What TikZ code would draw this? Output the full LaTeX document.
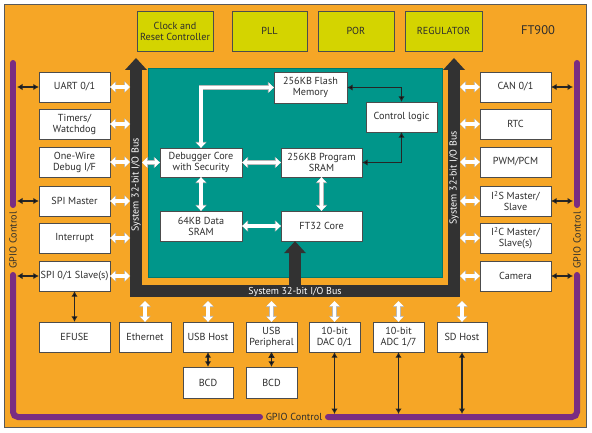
\documentclass[tikz,border=0pt]{standalone}
\usepackage{fontspec}
\setmainfont{PT Sans}
\usepackage{xcolor}
\usetikzlibrary{arrows.meta}

\definecolor{chiporange}{RGB}{246,166,38}
\definecolor{coreteal}{RGB}{0,150,138}
\definecolor{busgray}{RGB}{50,50,50}
\definecolor{gpiopurple}{RGB}{122,45,130}
\definecolor{blockyellow}{RGB}{212,212,0}
\definecolor{textgray}{RGB}{45,45,45}

\tikzset{
	block/.style={draw=gray!60!black, fill=white, text=textgray, align=center, inner sep=1pt,
		minimum height=30pt, font=\fontsize{10.2}{11}\selectfont},
	topblock/.style={block, fill=blockyellow, minimum height=40pt},
	busline/.style={busgray, line width=12pt, line join=miter},
	bustip/.tip={Triangle[length=12pt,width=22pt,line width=0pt]},
	bustext/.style={text=white, inner sep=0pt, font=\fontsize{10}{11}\selectfont},
	io/.style={white, line width=3.2pt, line join=miter,
		{Triangle[length=5pt,width=9.5pt,line width=0pt]}-{Triangle[length=5pt,width=9.5pt,line width=0pt]},
		preaction={draw=gray!55, line width=4.6pt,
			{Triangle[length=6pt,width=11.5pt,line width=0pt]}-{Triangle[length=6pt,width=11.5pt,line width=0pt]}}},
	sig/.style={draw=black!85, line width=1.3pt, {Latex[length=5.5pt,width=6.5pt]}-{Latex[length=5.5pt,width=6.5pt]}},
	hv/.style={to path={-| (\tikztotarget)}},
	vh/.style={to path={|- (\tikztotarget)}},
	gpiobar/.style={gpiopurple, line width=6pt, line cap=round, rounded corners=5pt},
	gpiotext/.style={text=textgray, inner sep=0pt, font=\fontsize{10.2}{11}\selectfont}
}

\begin{document}
\begin{tikzpicture}[x=1pt,y=-1pt]
		\useasboundingbox (0,0) rectangle (592,433);
		% chip outline and core area
		\draw[gray!70!black, fill=chiporange] (4,4) rectangle (586,427);
		\draw[coreteal!80!black, fill=coreteal] (148,68) rectangle (442,277);
		\node[text=textgray, font=\fontsize{12.5}{14}\selectfont] (chip) at (538,30) {FT900};
		%
		% clock and power blocks
		\node[topblock, minimum width=76pt] (clk) at (175,31) {Clock and\\Reset Controller};
		\node[topblock, minimum width=75pt] (pll) at (269.5,31) {PLL};
		\node[topblock, minimum width=76pt] (por) at (356,31) {POR};
		\node[topblock, minimum width=77pt] (reg) at (443.5,31) {REGULATOR};
		%
		% core blocks
		\node[block, minimum width=73pt, minimum height=31pt] (flash) at (310.5,87.5) {256KB Flash\\Memory};
		\node[block, minimum width=71pt] (ctrl) at (401.5,117) {Control logic};
		\node[block, minimum width=82pt, minimum height=29pt] (dbg) at (201,162.5) {Debugger Core\\with Security};
		\node[block, minimum width=81pt, minimum height=29pt] (psram) at (321.5,162.5) {256KB Program\\SRAM};
		\node[block, minimum width=82pt] (dsram) at (201,226) {64KB Data\\SRAM};
		\node[block, minimum width=81pt] (core) at (321.5,226) {FT32 Core};
		%
		% left peripherals
		\node[block, minimum width=71pt] (uart) at (74.5,87) {UART 0/1};
		\node[block, minimum width=71pt] (timer) at (74.5,124) {Timers/\\Watchdog};
		\node[block, minimum width=71pt] (owire) at (74.5,162) {One-Wire\\Debug I/F};
		\node[block, minimum width=71pt] (spim) at (74.5,201) {SPI Master};
		\node[block, minimum width=71pt] (irq) at (74.5,238) {Interrupt};
		\node[block, minimum width=71pt] (spis) at (74.5,276) {SPI 0/1 Slave(s)};
		%
		% right peripherals
		\node[block, minimum width=71pt] (can) at (515.5,87) {CAN 0/1};
		\node[block, minimum width=71pt] (rtc) at (515.5,124) {RTC};
		\node[block, minimum width=71pt] (pwm) at (515.5,162) {PWM/PCM};
		\node[block, minimum width=71pt] (i2s) at (515.5,201) {I\textsuperscript{2}S Master/\\Slave};
		\node[block, minimum width=71pt] (i2c) at (515.5,238) {I\textsuperscript{2}C Master/\\Slave(s)};
		\node[block, minimum width=71pt] (cam) at (515.5,276) {Camera};
		%
		% bottom peripherals
		\node[block, minimum width=71pt] (efuse) at (74.5,337) {EFUSE};
		\node[block, minimum width=52pt] (eth) at (145,337) {Ethernet};
		\node[block, minimum width=50pt] (usbh) at (208,337) {USB Host};
		\node[block, minimum width=51pt] (usbp) at (271.5,337) {USB\\Peripheral};
		\node[block, minimum width=51pt] (dac) at (334.5,337) {10-bit\\DAC 0/1};
		\node[block, minimum width=51pt] (adc) at (398.5,337) {10-bit\\ADC 1/7};
		\node[block, minimum width=50pt] (sd) at (462,337) {SD Host};
		\node[block, minimum width=50pt, minimum height=31pt] (bcdh) at (208,382.5) {BCD};
		\node[block, minimum width=51pt, minimum height=31pt] (bcdp) at (271.5,382.5) {BCD};
		%
		% system bus
		\coordinate (busLtop) at (136,58);
		\coordinate (busLbot) at (136,291);
		\coordinate (busRbot) at (454,291);
		\coordinate (busRtop) at (454,58);
		\coordinate (busC) at (295,291);
		\coordinate (busLw) at (130,0);
		\coordinate (busLe) at (142,0);
		\coordinate (busRe) at (460,0);
		\coordinate (busB) at (0,301);
		\draw[busline, bustip-bustip] (busLtop) -- (busLbot) -- (busRbot) -- (busRtop);
		\draw[busline, -bustip] (busC) -- (busC |- core.south);
		\node[bustext, rotate=90] (busLtext) at (136,185) {System 32-bit I/O Bus};
		\node[bustext, rotate=90] (busRtext) at (454,178) {System 32-bit I/O Bus};
		\node[bustext] (busBtext) at (295,292) {System 32-bit I/O Bus};
		%
		% GPIO control
		\coordinate (gpioL) at (17,0);
		\coordinate (gpioR) at (573,0);
		\coordinate (gpioB) at (0,414);
		\draw[gpiobar] (13,63) -- (13,205);
		\draw[gpiobar] (13,275) -- (13,417) -- (260,417);
		\draw[gpiobar] (328,417) -- (577,417) -- (577,275);
		\draw[gpiobar] (577,205) -- (577,63);
		\node[gpiotext, rotate=90] (gpioLtext) at (13,240) {GPIO Control};
		\node[gpiotext, rotate=90] (gpioRtext) at (577,240) {GPIO Control};
		\node[gpiotext] (gpioBtext) at (294,417) {GPIO Control};
		%
		% bus arrows, left
		\draw[io] (uart.east) -- (uart.east -| busLw);
		\draw[io] (timer.east) -- (timer.east -| busLw);
		\draw[io] (owire.east) -- (owire.east -| busLw);
		\draw[io] (spim.east) -- (spim.east -| busLw);
		\draw[io] (irq.east) -- (irq.east -| busLw);
		\draw[io] (spis.east) -- (spis.east -| busLw);
		\draw[io] (dbg.west) -- (dbg.west -| busLe);
		% bus arrows, right
		\draw[io] (can.west) -- (can.west -| busRe);
		\draw[io] (rtc.west) -- (rtc.west -| busRe);
		\draw[io] (pwm.west) -- (pwm.west -| busRe);
		\draw[io] (i2s.west) -- (i2s.west -| busRe);
		\draw[io] (i2c.west) -- (i2c.west -| busRe);
		\draw[io] (cam.west) -- (cam.west -| busRe);
		% bus arrows, bottom
		\draw[io] (eth.north) -- (eth.north |- busB);
		\draw[io] (usbh.north) -- (usbh.north |- busB);
		\draw[io] (usbp.north) -- (usbp.north |- busB);
		\draw[io] (dac.north) -- (dac.north |- busB);
		\draw[io] (adc.north) -- (adc.north |- busB);
		\draw[io] (sd.north) -- (sd.north |- busB);
		% core arrows
		\draw[io] (dbg.north) |- (flash.west);
		\draw[io] (dbg.east) -- (psram.west);
		\draw[io] (dbg.south) -- (dsram.north);
		\draw[io] (dsram.east) -- (core.west);
		\draw[io] (psram.south) -- (core.north);
		%
		\path[sig]
		% control logic
		(flash.east) edge[hv] (ctrl.north)
		(ctrl.south) edge[vh] (psram.east)
		% GPIO arrows
		(uart.west) edge (uart.west -| gpioL)
		(spim.west) edge (spim.west -| gpioL)
		(spis.west) edge (spis.west -| gpioL)
		(can.east) edge (can.east -| gpioR)
		(i2s.east) edge (i2s.east -| gpioR)
		(cam.east) edge (cam.east -| gpioR)
		(dac.south) edge (dac.south |- gpioB)
		(adc.south) edge (adc.south |- gpioB)
		(sd.south) edge (sd.south |- gpioB)
		% vertical arrows
		(spis.south) edge (efuse.north)
		(usbh.south) edge (bcdh.north)
		(usbp.south) edge (bcdp.north);
	\end{tikzpicture}
\end{document}
